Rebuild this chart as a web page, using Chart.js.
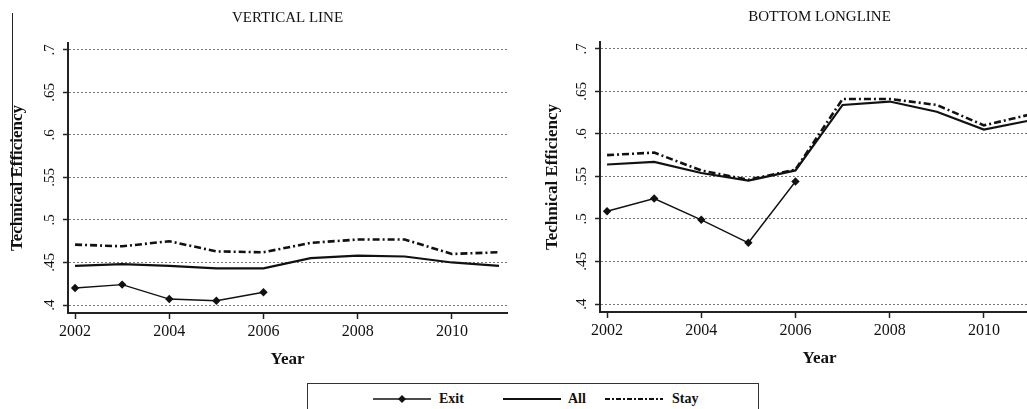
<!DOCTYPE html>
<html>
<head>
<meta charset="utf-8">
<script src="https://cdn.jsdelivr.net/npm/chart.js@4.4.1/dist/chart.umd.min.js"></script>
<style>
  html, body { margin:0; padding:0; background:#fff; width:1027px; height:409px; overflow:hidden; position:relative; }
  .wrap { position:absolute; }
  #c1wrap { left:0; top:0; width:520px; height:375px; }
  #c2wrap { left:535px; top:-1px; width:517px; height:375px; }
  #artifact { position:absolute; left:12px; top:13px; width:1px; height:231px; background:#222; }
  #legend { position:absolute; left:307px; top:383px; width:452px; height:40px; border:1.5px solid #333; box-sizing:border-box; font-family:"Liberation Serif", serif; font-weight:bold; font-size:14px; color:#111; }
  .li { position:absolute; top:6px; height:18px; line-height:18px; }
  .ls { position:absolute; top:6px; }
</style>
</head>
<body>
<div id="artifact"></div>
<div class="wrap" id="c1wrap"><canvas id="c1" width="520" height="375"></canvas></div>
<div class="wrap" id="c2wrap"><canvas id="c2" width="517" height="375"></canvas></div>
<div id="legend">
  <svg class="ls" style="left:65px" width="58" height="18"><line x1="0" y1="9" x2="58" y2="9" stroke="#111" stroke-width="1.4"/><polygon points="29,5 33,9 29,13 25,9" fill="#111"/></svg>
  <span class="li" style="left:131px">Exit</span>
  <svg class="ls" style="left:195px" width="58" height="18"><line x1="0" y1="9" x2="58" y2="9" stroke="#111" stroke-width="2"/></svg>
  <span class="li" style="left:260px">All</span>
  <svg class="ls" style="left:297px" width="58" height="18"><line x1="0" y1="9" x2="58" y2="9" stroke="#111" stroke-width="2" stroke-dasharray="5,2,2,2"/></svg>
  <span class="li" style="left:364px">Stay</span>
</div>
<script>
// ---- data ----
const years = [2002, 2003, 2004, 2005, 2006, 2007, 2008, 2009, 2010, 2011];
const exitYears = [2002, 2003, 2004, 2005, 2006];
const xTicks = [2002, 2004, 2006, 2008, 2010];
const yTicks = [0.4, 0.45, 0.5, 0.55, 0.6, 0.65, 0.7];

const vlExit = [0.420, 0.424, 0.407, 0.405, 0.415];
const vlAll  = [0.446, 0.448, 0.446, 0.443, 0.443, 0.455, 0.458, 0.457, 0.450, 0.446];
const vlStay = [0.471, 0.469, 0.475, 0.463, 0.462, 0.473, 0.477, 0.477, 0.460, 0.462];

const blExit = [0.509, 0.524, 0.499, 0.472, 0.544];
const blAll  = [0.564, 0.567, 0.554, 0.545, 0.557, 0.634, 0.638, 0.626, 0.605, 0.616];
const blStay = [0.575, 0.578, 0.557, 0.546, 0.558, 0.641, 0.641, 0.634, 0.610, 0.623];

const serif = '"Liberation Serif", "Times New Roman", serif';

function pts(xs, ys) { return xs.map((x, i) => ({ x: x, y: ys[i] })); }
function yLabel(v) {
  let s = (Math.round(v * 100) / 100).toString();
  return s.replace(/^0/, '');
}

function makeChart(id, title, exitV, allV, stayV, yAxisWidth) {
  return new Chart(document.getElementById(id), {
    type: 'line',
    data: {
      datasets: [
        { label: 'Exit', data: pts(exitYears, exitV), borderColor: '#111', backgroundColor: '#111',
          borderWidth: 1.4, pointStyle: 'rectRot', pointRadius: 4.2, pointBackgroundColor: '#111', pointBorderWidth: 0, tension: 0 },
        { label: 'All', data: pts(years, allV), borderColor: '#111', borderWidth: 2.2, pointRadius: 0, tension: 0 },
        { label: 'Stay', data: pts(years, stayV), borderColor: '#111', borderWidth: 2.6, borderDash: [7, 3, 2, 3], pointRadius: 0, tension: 0 }
      ]
    },
    options: {
      responsive: false,
      animation: false,
      events: [],
      layout: { padding: { left: 0, right: 13, top: 0, bottom: 0 } },
      plugins: {
        legend: { display: false },
        tooltip: { enabled: false },
        title: { display: true, text: title, fullSize: false, color: '#111',
                 font: { family: serif, size: 15, weight: 'normal', lineHeight: 1 },
                 padding: { top: 11, bottom: 17 } }
      },
      scales: {
        x: {
          type: 'linear', min: 2001.85, max: 2011.17,
          afterBuildTicks: (s) => { s.ticks = xTicks.map(v => ({ value: v })); },
          afterFit: (s) => { s.height = 62; },
          ticks: { callback: (v) => String(v), color: '#111', font: { family: serif, size: 16 }, padding: 3, autoSkip: false, maxRotation: 0 },
          grid: { display: true, drawOnChartArea: false, drawTicks: true, tickLength: 6, tickColor: '#222', tickWidth: 1.5 },
          border: { display: true, color: '#222', width: 2 },
          title: { display: true, text: 'Year', color: '#111', font: { family: serif, size: 17, weight: 'bold', lineHeight: 1.2 }, padding: { top: 0, bottom: 4.8 } }
        },
        y: {
          type: 'linear', min: 0.3906, max: 0.708,
          afterBuildTicks: (s) => { s.ticks = yTicks.map(v => ({ value: v })); },
          afterFit: (s) => { s.width = yAxisWidth; },
          ticks: { callback: (v) => yLabel(v), color: '#111', font: { family: serif, size: 15 }, padding: 4,
                   minRotation: 90, maxRotation: 90, crossAlign: 'center', autoSkip: false },
          grid: { display: true, drawOnChartArea: true, drawTicks: true, tickLength: 5, color: '#777', lineWidth: 1,
                  tickColor: '#222', tickWidth: 1.5 },
          border: { display: true, color: '#222', width: 2, dash: [2, 2] },
          title: { display: true, text: 'Technical Efficiency', color: '#111', font: { family: serif, size: 17, weight: 'bold', lineHeight: 1.2 }, padding: { top: 7.8, bottom: 0 } }
        }
      }
    }
  });
}

makeChart('c1', 'VERTICAL LINE', vlExit, vlAll, vlStay, 68);
makeChart('c2', 'BOTTOM LONGLINE', blExit, blAll, blStay, 65);
</script>
</body>
</html>
